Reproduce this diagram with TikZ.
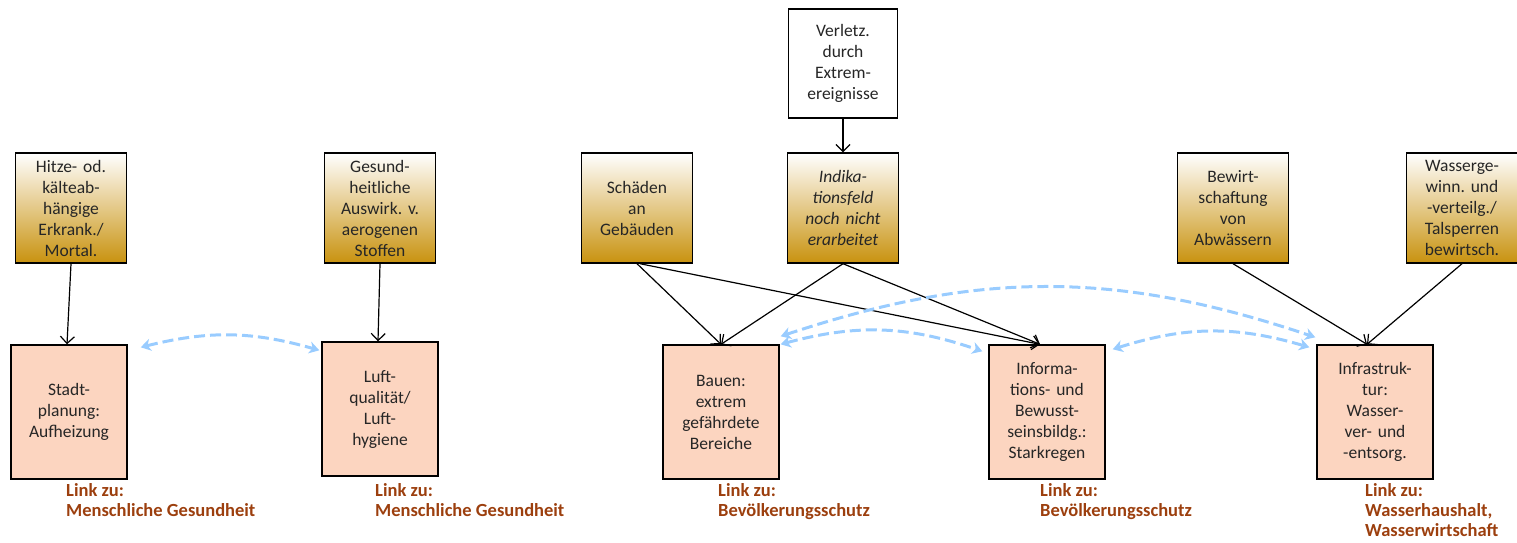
\documentclass[tikz,border=0pt]{standalone}
\usepackage{fontspec}
\setmainfont{Carlito}
\usetikzlibrary{arrows.meta,calc}
\definecolor{gold}{HTML}{C8920F}
\definecolor{peach}{HTML}{FCD5C0}
\definecolor{linkc}{HTML}{9C3F0E}
\definecolor{lblue}{HTML}{99CCFF}
\begin{document}
\frenchspacing
\begin{tikzpicture}[x=1pt,y=-1pt,
  txt/.style={align=center,font=\fontsize{17.5}{21}\selectfont\frenchspacing,text=black!85},
  topbox/.style={txt,draw,line width=1.4pt,minimum width=111pt,minimum height=110pt,text width=108pt,inner sep=0pt,top color=white,bottom color=gold},
  whitebox/.style={txt,draw,line width=1.4pt,minimum width=109pt,minimum height=109pt,text width=106pt,inner sep=0pt,fill=white},
  botbox/.style={txt,draw,line width=1.4pt,minimum width=116pt,minimum height=134pt,text width=112pt,inner sep=0pt,fill=peach},
  linklbl/.style={anchor=north west,align=left,inner sep=0pt,font=\fontsize{18.5}{20}\selectfont\bfseries,text=linkc},
  arr/.style={line width=1.2pt,-{Straight Barb[length=7pt,width=14pt]}},
  blu/.style={lblue,line width=3pt,dash pattern=on 11pt off 5pt,{Stealth[length=10pt,width=12pt,inset=3pt]}-{Stealth[length=10pt,width=12pt,inset=3pt]}}
]
\useasboundingbox (0,0) rectangle (1517,542);

% top boxes
\node[topbox] (hitze) at (71,208) {Hitze- od.\\kälteab-\\hängige\\Erkrank./\\Mortal.};
\node[topbox] (gesund) at (380,208) {Gesund-\\heitliche\\Auswirk. v.\\aerogenen\\Stoffen};
\node[topbox] (schaeden) at (637,208) {Schäden\\an\\Gebäuden};
\node[topbox] (indika) at (843,208) {\itshape Indika-\\\itshape tionsfeld\\\itshape noch nicht\\\itshape erarbeitet};
\node[whitebox] (verletz) at (843,63.5) {Verletz.\\durch\\Extrem-\\ereignisse};
\node[topbox] (bewirt) at (1233,208) {Bewirt-\\schaftung\\von\\Abwässern};
\node[topbox] (wasserge) at (1462,208) {Wasserge-\\winn. und\\-verteilg./\\Talsperren\\bewirtsch.};

% bottom boxes
\node[botbox] (stadt) at (69,412) {Stadt-\\planung:\\Aufheizung};
\node[botbox] (luft) at (380,409) {Luft-\\qualität/\\Luft-\\hygiene};
\node[botbox] (bauen) at (721,412) {Bauen:\\extrem\\gefährdete\\Bereiche};
\node[botbox] (informa) at (1047,412) {Informa-\\tions- und\\Bewusst-\\seinsbildg.:\\Starkregen};
\node[botbox] (infra) at (1375,412) {Infrastruk-\\tur:\\Wasser-\\ver- und\\-entsorg.};

% link labels
\node[linklbl] (l1) at (66,483) {Link zu:\\Menschliche Gesundheit};
\node[linklbl] (l2) at (375,483) {Link zu:\\Menschliche Gesundheit};
\node[linklbl] (l3) at (718,483) {Link zu:\\Bevölkerungsschutz};
\node[linklbl] (l4) at (1040,483) {Link zu:\\Bevölkerungsschutz};
\node[linklbl] (l5) at (1365,483) {Link zu:\\Wasserhaushalt,\\Wasserwirtschaft};

% black connectors
\draw[arr] (hitze.south) -- ([xshift=-2pt]stadt.north);
\draw[arr] (gesund.south) -- ([xshift=-2pt]luft.north);
\draw[arr] (verletz.south) -- (indika.north);
\draw[arr] (schaeden.south) -- (bauen.north);
\draw[arr] ([xshift=3pt]schaeden.south) -- ([xshift=-7pt]informa.north);
\draw[arr] (indika.south) -- (bauen.north);
\draw[arr] (indika.south) -- ([xshift=-7pt]informa.north);
\draw[arr] (bewirt.south) -- ([xshift=-8pt]infra.north);
\draw[arr] (wasserge.south) -- ([xshift=-8pt]infra.north);

% blue dashed links
\draw[blu] ([xshift=13pt,yshift=-3pt]stadt.north east) to[bend left=15] ([xshift=-2pt,yshift=-9pt]luft.north west);
\draw[blu] ([xshift=1pt]bauen.north east) to[bend left=17] ([xshift=-6pt,yshift=-7pt]informa.north west);
\draw[blu] ([xshift=1pt,yshift=8pt]bauen.north east) to[bend left=18.5] ([xshift=-1pt,yshift=7pt]infra.north west);
\draw[blu] ([xshift=7pt,yshift=-5pt]informa.north east) to[bend left=17] ([xshift=-7pt,yshift=-3pt]infra.north west);
\end{tikzpicture}
\end{document}
